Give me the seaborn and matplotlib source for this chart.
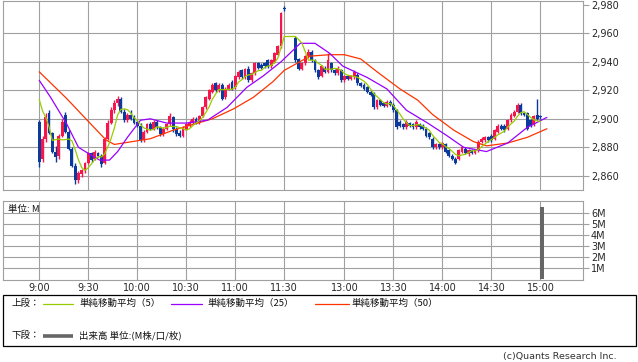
import numpy as np
import pandas as pd
import matplotlib
matplotlib.use("Agg")
import matplotlib.pyplot as plt
import seaborn as sns
from matplotlib.ticker import FuncFormatter

# ---------------- data (2-minute candles) ----------------
# morning session 9:00 .. 11:30
am_open  = [2898,2872,2886,2904,2890,2877,2874,2888,2903,2891,2879,2867,2857,2861,2864,2869,2876,2872,2876,2874,
            2869,2886,2897,2906,2911,2914,2905,2899,2903,2901,2898,2895,2885,2891,2896,2893,2898,2894,2889,2893,
            2896,2901,2893,2890,2888,2893,2895,2897,2900,2897,2902,2908,2914,2919,2925,2920,2924,2915,2921,2926,
            2922,2929,2934,2929,2935,2927,2932,2939,2938,2939,2941,2937,2940,2945,2951,2978]
am_high  = [2899,2888,2904,2906,2891,2881,2889,2900,2905,2892,2880,2869,2863,2865,2870,2877,2877,2878,2877,2875,
            2887,2899,2908,2913,2916,2915,2907,2904,2906,2903,2899,2897,2892,2897,2898,2899,2899,2895,2894,2897,
            2904,2902,2894,2892,2895,2897,2899,2901,2901,2903,2909,2916,2921,2925,2926,2925,2925,2922,2925,2927,
            2931,2934,2935,2936,2937,2933,2940,2940,2939,2940,2942,2942,2947,2952,2975,2979]
am_low   = [2866,2870,2884,2889,2876,2870,2872,2887,2890,2878,2866,2854,2855,2859,2862,2868,2870,2871,2873,2866,
            2868,2885,2896,2904,2909,2904,2898,2898,2899,2896,2894,2884,2884,2890,2892,2892,2893,2888,2888,2892,
            2895,2891,2888,2887,2887,2892,2894,2896,2896,2896,2901,2907,2913,2918,2919,2919,2913,2914,2920,2920,
            2921,2928,2928,2928,2926,2926,2931,2935,2935,2936,2936,2936,2939,2944,2950,2976]
am_close = [2870,2886,2901,2890,2877,2873,2888,2898,2891,2879,2867,2857,2862,2864,2869,2876,2871,2877,2874,2868,
            2886,2897,2906,2911,2914,2905,2899,2903,2900,2897,2895,2885,2891,2896,2893,2898,2894,2889,2893,2896,
            2902,2893,2889,2888,2894,2896,2898,2900,2897,2902,2908,2915,2920,2924,2920,2924,2914,2921,2924,2921,
            2930,2933,2929,2935,2927,2932,2939,2936,2936,2937,2937,2941,2946,2951,2974,2977]

# afternoon session 12:30 .. 15:00
pm_open  = [2957,2942,2935,2939,2944,2947,2941,2934,2930,2936,2933,2939,2934,2932,2934,2927,2930,2928,2929,2931,
            2925,2924,2922,2919,2918,2908,2913,2911,2909,2912,2910,2906,2898,2896,2894,2897,2896,2894,2896,2895,
            2893,2890,2886,2880,2882,2880,2882,2878,2874,2872,2872,2877,2879,2875,2878,2876,2878,2884,2885,2887,
            2888,2886,2891,2895,2895,2893,2899,2902,2905,2910,2904,2904,2899,2896,2903,2902]
pm_high  = [2958,2943,2940,2945,2949,2948,2942,2935,2938,2937,2946,2940,2935,2937,2935,2931,2931,2931,2934,2932,
            2926,2925,2923,2920,2919,2914,2914,2912,2913,2913,2911,2907,2899,2897,2899,2898,2897,2899,2897,2896,
            2894,2891,2887,2883,2883,2884,2883,2879,2875,2873,2879,2881,2880,2879,2879,2879,2885,2887,2888,2888,
            2889,2893,2896,2896,2896,2900,2904,2906,2911,2911,2905,2905,2900,2903,2914,2903]
pm_low   = [2940,2934,2934,2938,2943,2940,2933,2928,2929,2932,2932,2933,2931,2931,2926,2926,2927,2927,2928,2924,
            2922,2920,2918,2916,2907,2907,2909,2908,2908,2909,2905,2893,2894,2893,2893,2894,2893,2893,2893,2892,
            2887,2886,2879,2879,2879,2879,2876,2873,2871,2868,2871,2876,2875,2874,2875,2875,2877,2883,2884,2884,
            2884,2885,2890,2892,2891,2892,2898,2901,2904,2903,2902,2892,2894,2895,2899,2900]
pm_close = [2941,2935,2939,2944,2947,2941,2934,2929,2937,2933,2941,2934,2932,2936,2927,2930,2928,2930,2933,2925,
            2923,2921,2919,2917,2908,2913,2910,2909,2912,2910,2906,2894,2895,2894,2898,2895,2894,2898,2894,2893,
            2888,2887,2880,2882,2880,2883,2877,2874,2872,2869,2878,2880,2876,2878,2876,2878,2884,2886,2887,2885,
            2885,2892,2895,2893,2892,2899,2903,2905,2910,2904,2903,2893,2895,2902,2900,2901]

# closes of the previous session used for the opening moving average
prev_close = [2926, 2924, 2923, 2925]

# slower moving averages
ma25_times = ["9:00","9:07","9:17","9:24","9:31","9:37","9:43","9:48","9:54","10:02","10:08","10:18","10:30",
              "10:43","10:55","11:07","11:17","11:28","12:33","12:42","12:51","12:59","13:14","13:26","13:38",
              "13:51","14:03","14:13","14:27","14:40","14:52","15:04"]
ma25_vals  = [2927,2915,2896,2880,2875,2871,2871,2877,2887,2899,2900,2897,2897,
              2899,2908,2922,2930,2940,2953,2953,2946,2937,2929,2921,2906,
              2897,2888,2880,2877,2883,2894,2901]
ma50_times = ["9:00","9:17","9:31","9:41","9:46","9:57","10:08","10:22","10:34","10:46","10:59","11:11",
              "11:23","11:30","12:39","12:51","13:00","13:10","13:20","13:34","13:45","13:54","14:07",
              "14:19","14:27","14:40","14:52","15:04"]
ma50_vals  = [2933,2914,2897,2885,2882,2884,2886,2892,2896,2900,2907,2915,
              2926,2934,2944,2945,2945,2942,2933,2921,2913,2903,2892,
              2884,2881,2883,2887,2893]

vol_times = ["15:00"]
vol_values = [6.5]

time_ticks = ["9:00","9:30","10:00","10:30","11:00","11:30","13:00","13:30","14:00","14:30","15:00"]
price_ticks = [2860, 2880, 2900, 2920, 2940, 2960, 2980]
vol_ticks = [1, 2, 3, 4, 5, 6]
vol_labels = ["1M", "2M", "3M", "4M", "5M", "6M"]

# ---------------- helpers ----------------
PM_POS = 156.8  # axis position of 12:30 (a short gap for the lunch break)


def tpos(s):
    h, m = map(int, s.split(":"))
    t = h * 60 + m
    if t <= 690:
        return t - 540
    return PM_POS + (t - 750)


am_pos = [2 * i for i in range(len(am_open))]
pm_pos = [PM_POS + 2 * j for j in range(len(pm_open))]
pos = np.array(am_pos + pm_pos)
o = np.array(am_open + pm_open, float)
h = np.array(am_high + pm_high, float)
l = np.array(am_low + pm_low, float)
c = np.array(am_close + pm_close, float)

sma5 = pd.Series(prev_close + list(c)).rolling(5).mean().iloc[len(prev_close):].to_numpy()

ma_df = pd.concat([
    pd.DataFrame({"pos": pos, "val": sma5, "name": "SMA5"}),
    pd.DataFrame({"pos": [tpos(t) for t in ma25_times], "val": ma25_vals, "name": "SMA25"}),
    pd.DataFrame({"pos": [tpos(t) for t in ma50_times], "val": ma50_vals, "name": "SMA50"}),
], ignore_index=True)

UP = "#f5174b"
DOWN = "#0c3a9c"
GRID = "#a0a0a0"
C5, C25, C50 = "#99cc00", "#9900ff", "#ff3300"

sns.set_style("white")
plt.rcParams["font.family"] = ["DejaVu Sans", "Noto Sans CJK JP"]
JP = ["Noto Sans CJK JP", "DejaVu Sans"]

W, H = 638, 362
fig = plt.figure(figsize=(W / 100, H / 100), dpi=100)

L, R = 3.3, 582.7
ax = fig.add_axes([L / W, 1 - 190.3 / H, (R - L) / W, (190.3 - 1) / H])
axv = fig.add_axes([L / W, 1 - 280 / H, (R - L) / W, (280 - 201) / H])

XL = (-22, 332.7)
tick_pos = [tpos(t) for t in time_ticks]

# ---- main panel ----
ax.set_xlim(*XL)
ax.set_ylim(2849.8, 2982.7)
ax.set_axisbelow(True)
ax.set_xticks(tick_pos)
ax.tick_params(axis="x", length=0, labelbottom=False)
ax.grid(axis="x", color=GRID, lw=0.8)
for v in price_ticks[:-1]:
    ax.axhline(v, color=GRID, lw=0.8, zorder=0.5)
ax.yaxis.tick_right()
ax.set_yticks(price_ticks)
ax.yaxis.set_major_formatter(FuncFormatter(lambda v, p: f"{int(v):,}"))
ax.tick_params(axis="y", length=4, width=0.8, color=GRID, labelsize=7, pad=2)

up = c >= o
cols = np.where(up, UP, DOWN)
ax.vlines(pos, l, h, colors=cols, lw=1.0, zorder=3)
bottom = np.minimum(o, c)
height = np.maximum(np.abs(c - o), 0.8)
ax.bar(pos, height, bottom=bottom, width=1.75, color=cols, linewidth=0, zorder=4)

sns.lineplot(data=ma_df, x="pos", y="val", hue="name", hue_order=["SMA50", "SMA25", "SMA5"],
             palette={"SMA5": C5, "SMA25": C25, "SMA50": C50}, estimator=None, sort=False,
             legend=False, lw=0.9, ax=ax, zorder=5)
ax.set_xlabel("")
ax.set_ylabel("")

for sp in ax.spines.values():
    sp.set_color(GRID)
    sp.set_linewidth(0.8)

# ---- volume panel ----
axv.set_xlim(*XL)
axv.set_ylim(-0.1, 7.06)
axv.set_axisbelow(True)
axv.grid(True, color=GRID, lw=0.8)
axv.bar([tpos(t) for t in vol_times], vol_values, width=2, align="edge", color="#666666",
        linewidth=0, zorder=3)
axv.set_xticks(tick_pos)
axv.set_xticklabels(time_ticks)
axv.tick_params(axis="x", length=0, labelsize=7, pad=2.5)
axv.yaxis.tick_right()
axv.set_yticks(vol_ticks)
axv.set_yticklabels(vol_labels)
axv.tick_params(axis="y", length=4, width=0.8, color=GRID, labelsize=7, pad=2)
for sp in axv.spines.values():
    sp.set_color(GRID)
    sp.set_linewidth(0.8)

# ---- overlay in pixel coordinates for legend / notes ----
ov = fig.add_axes([0, 0, 1, 1], zorder=10)
ov.set_xlim(0, W)
ov.set_ylim(H, 0)
ov.axis("off")
ov.patch.set_alpha(0)

ov.text(7.5, 209.5, "単位: M", family=JP, fontsize=6.8, va="center", ha="left", color="#111")

ov.add_patch(plt.Rectangle((3.3, 295), 632.4, 50.7, fill=False, edgecolor="black", lw=0.9))
y1, y2 = 303.5, 335.5
fs = 6.8
ov.text(11.5, y1, "上段：", family=JP, fontsize=fs, va="center", ha="left", color="#111")
ov.plot([43, 73], [y1, y1], color=C5, lw=0.9)
ov.text(79, y1, "単純移動平均（5）", family=JP, fontsize=fs, va="center", ha="left", color="#111")
ov.plot([171, 202], [y1, y1], color=C25, lw=0.9)
ov.text(207, y1, "単純移動平均（25）", family=JP, fontsize=fs, va="center", ha="left", color="#111")
ov.plot([315, 349], [y1, y1], color=C50, lw=0.9)
ov.text(351, y1, "単純移動平均（50）", family=JP, fontsize=fs, va="center", ha="left", color="#111")
ov.text(11.5, y2, "下段：", family=JP, fontsize=fs, va="center", ha="left", color="#111")
ov.plot([43, 73], [y2, y2], color="#666666", lw=2.6, solid_capstyle="butt")
ov.text(79, y2, "出来高 単位:(M株/口/枚)", family=JP, fontsize=fs, va="center", ha="left", color="#111")

ov.text(617, 356, "(c)Quants Research Inc.", fontsize=6.8, va="center", ha="right", color="#333")

fig.savefig("out.png", dpi=100)
